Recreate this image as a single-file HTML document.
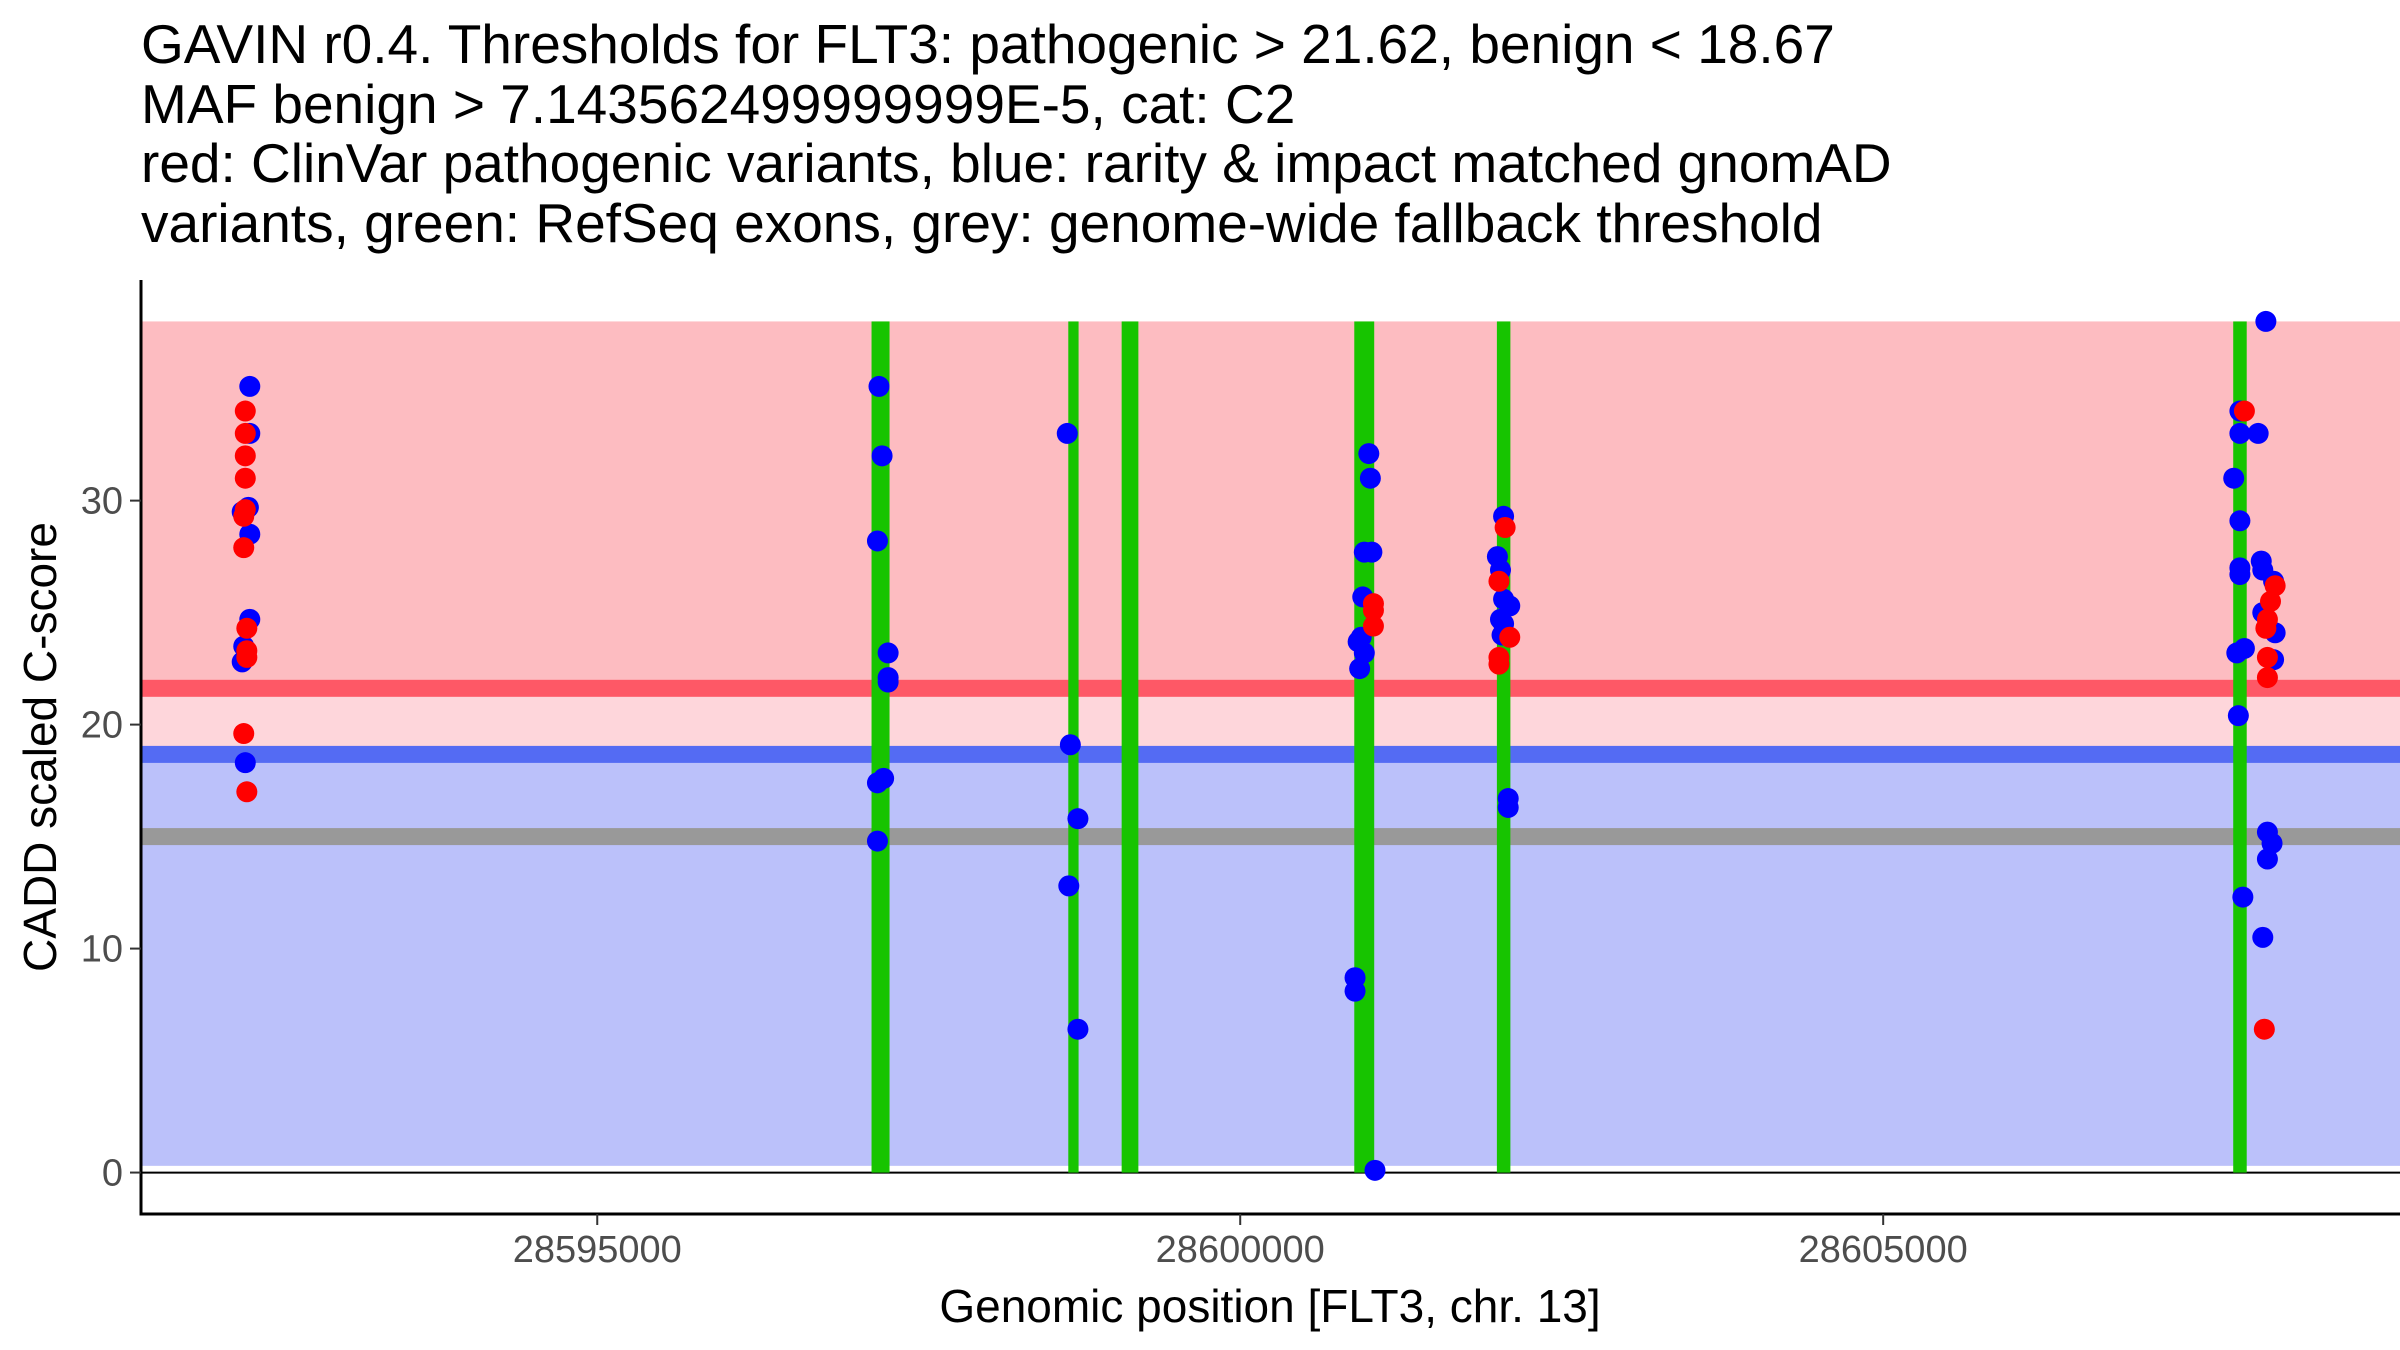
<!DOCTYPE html>
<html><head><meta charset="utf-8"><style>
html,body{margin:0;padding:0;background:#fff;}
svg{display:block;font-family:"Liberation Sans",Arial,sans-serif;}
</style></head><body>
<svg id="chart" width="2400" height="1350" viewBox="0 0 2400 1350" xmlns="http://www.w3.org/2000/svg">
<g font-size="55" fill="#000">
<text x="141" y="63">GAVIN r0.4. Thresholds for FLT3: pathogenic &gt; 21.62, benign &lt; 18.67</text>
<text x="141" y="123">MAF benign &gt; 7.143562499999999E-5, cat: C2</text>
<text x="141" y="182">red: ClinVar pathogenic variants, blue: rarity &amp; impact matched gnomAD</text>
<text x="141" y="242">variants, green: RefSeq exons, grey: genome-wide fallback threshold</text>
</g>
<g id="plot"></g>
<text x="1270" y="1322" font-size="46" text-anchor="middle">Genomic position [FLT3, chr. 13]</text>
<text transform="translate(56,747) rotate(-90)" font-size="46" text-anchor="middle">CADD scaled C-score</text>
</svg>
<script>
const pathogenicThreshold = 21.62;
const benignThreshold = 18.67;
const fallbackThreshold = 15;
const bandTop = 38;
const xTicks = [28595000, 28600000, 28605000];
const yTicks = [0, 10, 20, 30];
const exonStart = [28597133, 28598663, 28599078, 28600887, 28601996, 28607722];
const exonEnd   = [28597273, 28598743, 28599208, 28601042, 28602101, 28607827];
const benignPos = [28592298,28592298,28592287,28592239,28592298,28592298,28592251,28592239,28592263,
 28597191,28597215,28597179,28597262,28597262,28597262,28597227,28597179,28597179,
 28598655,28598679,28598738,28598667,28598738,
 28601000,28601012,28600965,28601024,28600953,28600941,28600917,28600965,28600929,28600893,28600893,28601048,
 28602048,28602000,28602024,28602048,28602096,28602024,28602048,28602036,28602084,28602084,
 28607976,28607774,28607774,28607916,28607726,28607774,28607774,28607774,28607940,28607952,28608036,28607952,28608048,28607809,28607750,28608036,28607762,28607988,28608024,28607988,28607797,28607952];
const benignScore = [35.1,33.0,29.7,29.5,28.5,24.7,23.5,22.8,18.3,
 35.1,32.0,28.2,23.2,22.1,21.9,17.6,17.4,14.8,
 33.0,19.1,15.8,12.8,6.4,
 32.1,31.0,27.7,27.7,25.7,23.9,23.7,23.2,22.5,8.7,8.1,0.1,
 29.3,27.5,26.9,25.6,25.3,24.7,24.5,24.0,16.7,16.3,
 38.0,34.0,33.0,33.0,31.0,29.1,27.0,26.7,27.3,26.9,26.4,25.0,24.1,23.4,23.2,22.9,20.4,15.2,14.7,14.0,12.3,10.5];
const pathoPos = [28592263,28592263,28592263,28592263,28592263,28592251,28592251,28592275,28592275,28592275,28592251,28592275,
 28601036,28601036,28601036,
 28602060,28602012,28602096,28602012,28602012,
 28607809,28608048,28608012,28607988,28607976,28607988,28607988,28607964];
const pathoScore = [34.0,33.0,32.0,31.0,29.6,29.3,27.9,24.3,23.3,23.0,19.6,17.0,
 25.4,25.1,24.4,
 28.8,26.4,23.9,23.0,22.7,
 34.0,26.2,25.5,24.7,24.3,23.0,22.1,6.4];

const L=141,R=2400,T=280,B=1214;
const xMin=28591452,xMax=28609019,yMin=-1.85,yMax=39.85;
const sx=v=>L+(v-xMin)/(xMax-xMin)*(R-L);
const sy=v=>B-(v-yMin)/(yMax-yMin)*(B-T);
const NS='http://www.w3.org/2000/svg';
const plot=document.getElementById('plot');
function mk(tag,attrs){const e=document.createElementNS(NS,tag);for(const k in attrs)e.setAttribute(k,attrs[k]);plot.appendChild(e);return e;}
let e;
e=mk('rect',{x:L,y:sy(bandTop),width:R-L,height:sy(pathogenicThreshold)-sy(bandTop),fill:'#fdbcc1'});


e=mk('rect',{x:L,y:sy(pathogenicThreshold),width:R-L,height:sy(benignThreshold)-sy(pathogenicThreshold),fill:'#fed6db'});


e=mk('rect',{x:L,y:sy(benignThreshold),width:R-L,height:sy(0.3)-sy(benignThreshold),fill:'#bbc1fa'});


e=mk('rect',{x:L,y:sy(pathogenicThreshold)-8.5,width:R-L,height:17,fill:'#fe5866'});


e=mk('rect',{x:L,y:sy(benignThreshold)-8.5,width:R-L,height:17,fill:'#546bf3'});


e=mk('rect',{x:L,y:sy(fallbackThreshold)-8.5,width:R-L,height:17,fill:'#999999'});


e=mk('line',{x1:L,x2:R,y1:sy(0),y2:sy(0),stroke:'#000','stroke-width':2});


exonStart.forEach((s,i)=>{
  const x1=sx(s),x2=sx(exonEnd[i]);
  const r=mk('rect',{x:x1,y:sy(bandTop),width:x2-x1,height:sy(0)-sy(bandTop),fill:'#17c400'});
  
  
});
benignPos.forEach((p,i)=>{
  const c=mk('circle',{cx:sx(p),cy:sy(benignScore[i]),r:10.5,fill:'#0000ff'});
  
  
});
pathoPos.forEach((p,i)=>{
  const c=mk('circle',{cx:sx(p),cy:sy(pathoScore[i]),r:10.5,fill:'#ff0000'});
  
  
});
e=mk('line',{x1:L,x2:L,y1:T,y2:B+1.5,stroke:'#000','stroke-width':3});


e=mk('line',{x1:L-1.5,x2:R,y1:B,y2:B,stroke:'#000','stroke-width':3});


xTicks.forEach(t=>{
  const x=sx(t);
  const l=mk('line',{x1:x,x2:x,y1:B,y2:B+11,stroke:'#333','stroke-width':2});
  
  
  const tx=mk('text',{x:x,y:B+48,'font-size':38,fill:'#4d4d4d','text-anchor':'middle'});
  tx.textContent=String(t);
  
  
});
yTicks.forEach(t=>{
  const y=sy(t);
  const l=mk('line',{x1:L-11,x2:L,y1:y,y2:y,stroke:'#333','stroke-width':2});
  
  
  const tx=mk('text',{x:L-18,y:y+13,'font-size':38,fill:'#4d4d4d','text-anchor':'end'});
  tx.textContent=String(t);
  
  
});
</script>
</body></html>
